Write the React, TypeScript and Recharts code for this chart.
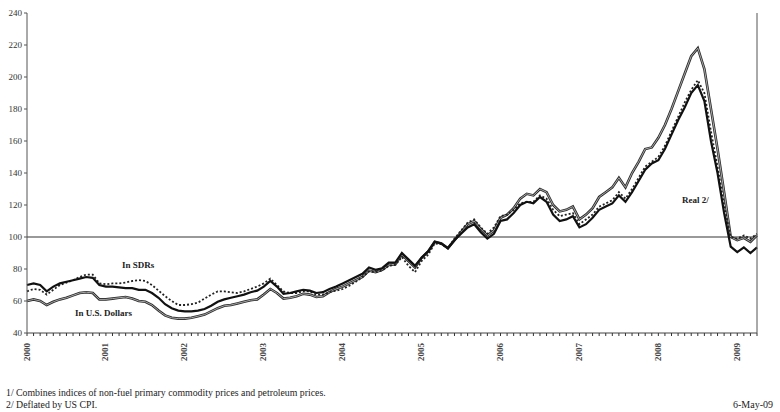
import { LineChart, Line, XAxis, YAxis, ReferenceLine } from 'recharts'

// monthly, Jan 2000 .. Apr 2009 (2005 = 100)
const years = ['2000', '2001', '2002', '2003', '2004', '2005', '2006', '2007', '2008', '2009']

const usd = [
  60, 61, 60, 57.5, 59.5, 61, 62, 63.5, 65, 65.5, 65, 61,
  61, 61.5, 62, 62.5, 61.5, 60, 59.5, 57.5, 54, 51, 49.5, 49,
  49, 49.5, 50.5, 51.5, 53.5, 55.5, 57, 57.5, 58.5, 59.5, 60.5, 61,
  64, 67.5, 65, 61.5, 62, 63, 64.5, 64, 62.5, 63, 65.5, 67.5,
  69, 71, 73, 75, 79, 78, 79.5, 82.5, 83, 89, 85, 81,
  87, 91, 97, 96, 93, 98, 103, 108, 110, 105, 101, 104,
  112, 114, 118, 124, 127, 126, 130, 128, 120, 116, 117, 119,
  111, 114, 118, 125, 128, 131, 137, 131, 140, 147, 155, 156,
  162, 170, 180, 191, 202, 213, 218, 205, 180, 155, 128, 100,
  98, 99.5, 97, 101,
]

const sdr = [
  66, 67.5, 67, 64, 67, 70, 71.5, 73, 75, 76.5, 76.5, 71,
  70.5, 71, 71, 71.5, 72.5, 73, 72.5, 70, 66.5, 63, 60, 57.5,
  57.5, 58, 59, 61.5, 64, 66, 66, 65.5, 65, 66, 67.5, 69,
  71, 74, 70, 66, 65, 65, 66, 66, 64, 64, 65.5, 66.5,
  67.5, 69.5, 72, 75, 78.5, 78, 79, 82, 82.5, 87.5, 82, 78,
  85, 89, 96, 95.5, 93, 99, 104, 109, 111, 106, 102, 106,
  113, 114, 117, 121, 122, 122, 126, 124, 117, 113, 114, 115,
  108, 111, 114, 119, 121, 123, 128, 124, 130, 137, 144, 147,
  150, 157, 166, 175, 184, 192, 198, 190, 166, 144, 120, 100,
  99, 101, 99, 102,
]

const real = [
  70, 71, 70, 66, 69, 71, 72, 73, 74, 75, 74.5, 70,
  69, 69, 68.5, 68, 68, 67, 67, 65, 62, 58, 55.5, 54,
  53.5, 53.5, 54, 55, 57, 59.5, 61, 62, 63, 64, 65.5, 66.5,
  69, 72.5, 69, 64.5, 65, 66, 67, 66.5, 65, 65.5, 67.5, 69,
  71, 73, 75, 77, 81, 79.5, 80.5, 84, 84, 90, 86, 82,
  87, 91, 97, 96, 93, 98, 102, 106, 108, 103, 99, 102,
  110, 111, 115, 120, 122, 121, 125, 122, 114, 110, 111, 113,
  106, 108, 112, 117, 119, 121, 126, 122, 128, 135, 142, 146,
  148, 155, 164, 173, 181, 190, 195, 185, 160, 140, 115, 94,
  90.5, 93.5, 90, 93.5,
]

const yTicks = [40, 60, 80, 100, 120, 140, 160, 180, 200, 220, 240]

const data = usd.map((v, i) => ({ m: i, usd: v, sdr: sdr[i], real: real[i] }))
const monthTicks = data.map(d => d.m)

const font = '"Liberation Serif", "Times New Roman", serif'
const txt = { fontFamily: font, fontSize: 9, fill: '#333' }

function YearTick({ x, y, payload }: any) {
  if (payload.value % 12 !== 0) return null
  const label = years[payload.value / 12]
  const ty = y + 5
  return (
    <text x={x} y={ty} transform={`rotate(-90 ${x} ${ty})`} textAnchor="end" dy={2.5}
      style={{ ...txt, fontWeight: 'bold', fill: '#444' }}>
      {label}
    </text>
  )
}

const note = (left: number, top: number, s: string, bold = false, size = 9) => (
  <div style={{
    position: 'absolute', left, top, fontFamily: font, fontSize: size, lineHeight: '10px',
    color: '#222', whiteSpace: 'nowrap', fontWeight: bold ? 'bold' : 'normal',
  }}>{s}</div>
)

export default function App() {
  return (
    <div style={{ position: 'absolute', left: 0, top: 0, width: 780, height: 412, background: '#fff' }}>
      <LineChart width={780} height={412} data={data} margin={{ top: 13, right: 0, left: 0, bottom: 0 }}>
        <XAxis dataKey="m" type="number" domain={[0, 111]} ticks={monthTicks} interval={0}
          tick={<YearTick />} tickSize={3} stroke="#444" height={79} tickLine={{ stroke: '#333' }} />
        <YAxis yAxisId="l" domain={[40, 240]} ticks={yTicks} width={27} tickSize={3} tickMargin={2}
          stroke="#555" tick={txt} interval={0} />
        <YAxis yAxisId="r" orientation="right" domain={[40, 240]} ticks={yTicks} width={23} tickSize={3}
          tickMargin={3} stroke="#555" tick={{ ...txt, textAnchor: 'start' }} interval={0} />
        <ReferenceLine yAxisId="l" y={100} stroke="#777" strokeWidth={1.3} />
        <Line yAxisId="l" type="linear" dataKey="usd" stroke="#2a2a2a" strokeWidth={2.6} dot={false} isAnimationActive={false} />
        <Line yAxisId="l" type="linear" dataKey="usd" stroke="#c8c8c8" strokeWidth={0.8} dot={false} isAnimationActive={false} />
        <Line yAxisId="l" type="linear" dataKey="sdr" stroke="#222" strokeWidth={1.8} strokeDasharray="2 2" dot={false} isAnimationActive={false} />
        <Line yAxisId="l" type="linear" dataKey="real" stroke="#111" strokeWidth={2.2} dot={false} isAnimationActive={false} />
      </LineChart>
      {note(122, 260, 'In SDRs', true)}
      {note(75, 308, 'In U.S. Dollars', true)}
      {note(682, 195, 'Real 2/', true)}
      {note(6, 388, '1/  Combines indices of non-fuel primary commodity prices and petroleum prices.', false, 9.8)}
      {note(6, 400, '2/  Deflated by US CPI.', false, 9.8)}
      {note(733, 400, '6-May-09', false, 10)}
    </div>
  )
}
